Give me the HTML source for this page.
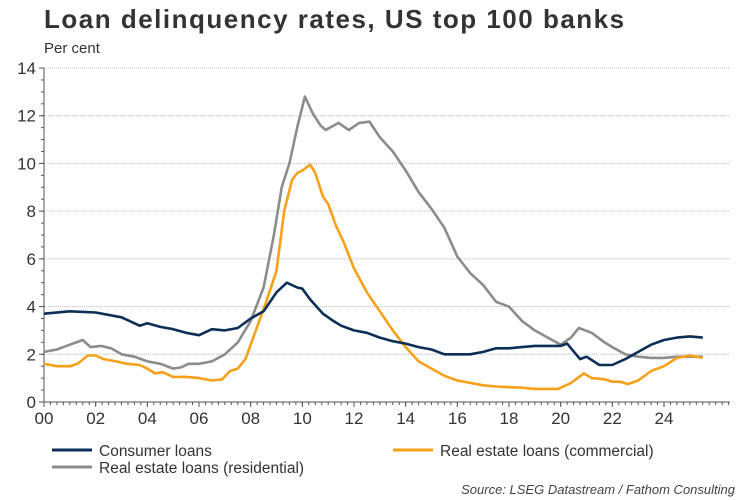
<!DOCTYPE html>
<html><head><meta charset="utf-8"><style>
body{margin:0;background:#fff;}
svg{display:block;font-family:"Liberation Sans",Arial,sans-serif;}
</style></head><body>
<svg id="c" width="750" height="500">
<text x="44" y="28" font-size="26" font-weight="bold" letter-spacing="1.5" fill="#333">Loan delinquency rates, US top 100 banks</text>
<text x="44" y="53" font-size="15" fill="#333">Per cent</text>
<g id="grid"></g><g id="axes"></g><g id="series"></g>
<g>
<line x1="52" y1="450" x2="92" y2="450" stroke="#0d2e57" stroke-width="3"/>
<text x="99" y="456" font-size="15.5" fill="#333">Consumer loans</text>
<line x1="393" y1="450" x2="433" y2="450" stroke="#f7a11a" stroke-width="3"/>
<text x="440" y="456" font-size="15.5" fill="#333">Real estate loans (commercial)</text>
<line x1="52" y1="467" x2="92" y2="467" stroke="#8c8c8c" stroke-width="3"/>
<text x="99" y="473" font-size="15.5" fill="#333">Real estate loans (residential)</text>
</g>
<text x="735" y="494" font-size="13" font-style="italic" fill="#444" text-anchor="end">Source: LSEG Datastream / Fathom Consulting</text>
</svg>
<script>
const yTicks=[0,2,4,6,8,10,12,14];
const xTickYears=[2000,2002,2004,2006,2008,2010,2012,2014,2016,2018,2020,2022,2024];
const xTickLabels=["00","02","04","06","08","10","12","14","16","18","20","22","24"];
const consumerT=[2000,2001,2002,2003,2003.7,2004,2004.5,2005,2005.5,2006,2006.5,2007,2007.5,2008,2008.5,2009,2009.4,2009.8,2010,2010.3,2010.8,2011.2,2011.5,2012,2012.5,2013,2013.5,2014,2014.5,2015,2015.5,2016,2016.5,2017,2017.5,2018,2018.5,2019,2019.5,2020,2020.25,2020.75,2021,2021.5,2022,2022.5,2023,2023.5,2024,2024.5,2025,2025.5];
const consumerV=[3.7,3.8,3.75,3.55,3.2,3.3,3.15,3.05,2.9,2.8,3.05,3.0,3.1,3.5,3.8,4.6,5.0,4.8,4.75,4.3,3.7,3.4,3.2,3.0,2.9,2.7,2.55,2.45,2.3,2.2,2.0,2.0,2.0,2.1,2.25,2.25,2.3,2.35,2.35,2.35,2.45,1.8,1.9,1.55,1.55,1.8,2.1,2.4,2.6,2.7,2.75,2.7];
const commT=[2000,2000.5,2001,2001.3,2001.7,2002,2002.3,2002.8,2003.2,2003.7,2004,2004.3,2004.6,2005,2005.5,2006,2006.5,2006.9,2007.2,2007.5,2007.8,2008.2,2008.6,2009,2009.3,2009.6,2009.8,2010,2010.3,2010.5,2010.8,2011,2011.3,2011.6,2012,2012.5,2013,2013.5,2014,2014.5,2015,2015.5,2016,2016.5,2017,2017.5,2018,2018.5,2019,2019.5,2019.9,2020.4,2020.9,2021.2,2021.7,2022,2022.3,2022.6,2023,2023.5,2024,2024.5,2025,2025.5];
const commV=[1.6,1.5,1.5,1.6,1.95,1.95,1.8,1.7,1.6,1.55,1.4,1.2,1.25,1.05,1.05,1.0,0.9,0.95,1.3,1.4,1.8,3.0,4.2,5.5,8.0,9.3,9.6,9.7,9.95,9.6,8.6,8.3,7.4,6.7,5.6,4.6,3.8,3.0,2.3,1.7,1.4,1.1,0.9,0.8,0.7,0.65,0.62,0.6,0.55,0.55,0.55,0.8,1.2,1.0,0.95,0.85,0.85,0.75,0.9,1.3,1.5,1.85,1.95,1.85];
const resT=[2000,2000.5,2001,2001.5,2001.8,2002.2,2002.6,2003,2003.5,2004,2004.5,2005,2005.3,2005.6,2006,2006.5,2007,2007.5,2008,2008.5,2008.9,2009.2,2009.5,2009.8,2010.1,2010.4,2010.7,2010.9,2011.4,2011.8,2012.2,2012.6,2013,2013.5,2014,2014.5,2015,2015.5,2016,2016.5,2017,2017.5,2018,2018.5,2019,2019.5,2020,2020.4,2020.7,2021.2,2021.7,2022,2022.5,2023,2023.5,2024,2024.5,2025,2025.5];
const resV=[2.1,2.2,2.4,2.6,2.3,2.35,2.25,2.0,1.9,1.7,1.6,1.4,1.45,1.6,1.6,1.7,2.0,2.5,3.4,4.8,7.0,9.0,10.0,11.5,12.8,12.1,11.6,11.4,11.7,11.4,11.7,11.75,11.1,10.5,9.7,8.8,8.1,7.3,6.1,5.4,4.9,4.2,4.0,3.4,3.0,2.7,2.4,2.7,3.1,2.9,2.5,2.3,2.0,1.9,1.85,1.85,1.9,1.9,1.9];

const NS="http://www.w3.org/2000/svg";
const X0=44,X1=730,Y0=402,Y1=68;
const xs=t=>X0+(t-2000)*(664-44)/24;
const ys=v=>Y0-(v/14)*(Y0-Y1);
function mk(tag,attrs,parent){const e=document.createElementNS(NS,tag);for(const k in attrs)e.setAttribute(k,attrs[k]);parent.appendChild(e);return e;}
const grid=document.getElementById('grid'),axes=document.getElementById('axes'),ser=document.getElementById('series');
yTicks.forEach(v=>{
  if(v>0){const g=mk('line',{x1:X0,x2:X1,y1:ys(v),y2:ys(v),stroke:'#bbb','stroke-dasharray':'1,1'},grid);
  
  }
  const t=mk('text',{x:36,y:ys(v)+6,'font-size':17,'text-anchor':'end',fill:'#333'},axes);t.textContent=v;
  
  
  mk('line',{x1:X0-5,x2:X0,y1:ys(v),y2:ys(v),stroke:'#555'},axes);
});
for(let v=0;v<=14;v+=0.5)mk('line',{x1:X0-3,x2:X0,y1:ys(v),y2:ys(v),stroke:'#555'},axes);
const ya=mk('line',{x1:X0,x2:X0,y1:Y0,y2:Y1,stroke:'#555'},axes);


const xa=mk('line',{x1:X0,x2:X1,y1:Y0,y2:Y0,stroke:'#555'},axes);


for(let t=2000;xs(t)<=X1;t+=0.25)mk('line',{x1:xs(t),x2:xs(t),y1:Y0,y2:Y0+3,stroke:'#555'},axes);
xTickYears.forEach((yr,i)=>{
  mk('line',{x1:xs(yr),x2:xs(yr),y1:Y0,y2:Y0+5,stroke:'#555'},axes);
  const t=mk('text',{x:xs(yr),y:Y0+22,'font-size':17,'text-anchor':'middle',fill:'#333'},axes);t.textContent=xTickLabels[i];
  
  
});
function line(T,V,color,name){
  const d=T.map((t,i)=>(i?'L':'M')+xs(t).toFixed(1)+','+ys(V[i]).toFixed(1)).join('');
  const p=mk('path',{d:d,fill:'none',stroke:color,'stroke-width':2.6,'stroke-linejoin':'round'},ser);
  
  
}
line(resT,resV,'#8c8c8c','residential-line');
line(commT,commV,'#f7a11a','commercial-line');
line(consumerT,consumerV,'#0d2e57','consumer-line');
</script>
</body></html>
